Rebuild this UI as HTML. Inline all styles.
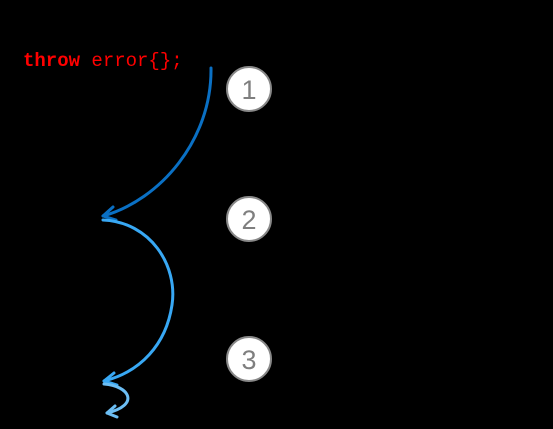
<!DOCTYPE html>
<html><head><style>
html,body{margin:0;padding:0;background:#000;width:553px;height:429px;overflow:hidden}
.t{position:absolute;left:23px;top:50px;font-family:"Liberation Mono",monospace;font-size:19px;line-height:22px;color:#f00;white-space:pre}
</style></head><body>
<div class="t"><b>throw</b> error{};</div>
<svg width="553" height="429" style="position:absolute;left:0;top:0">
<g fill="none" stroke-linecap="round" stroke-linejoin="round">
<path d="M211 68 C212 140 160 200 103 216" stroke="#0a70c4" stroke-width="3"/>
<path d="M113 207 L103 216 L116 220" stroke="#0a70c4" stroke-width="3"/>
<path d="M103 220 C150 222 178 265 172 305 C166 345 140 372 104 381" stroke="#38a8f4" stroke-width="3"/>
<path d="M114 373 L104 381 L117 385" stroke="#38a8f4" stroke-width="3"/>
<path d="M104 384 C130 386 140 405 107 413" stroke="#6cbef4" stroke-width="3"/>
<path d="M115 406 L107 413 L117 417" stroke="#6cbef4" stroke-width="3"/>
</g>
<g font-family="Liberation Sans, sans-serif" font-size="27" fill="#7f7f7f" text-anchor="middle">
<circle cx="249" cy="89" r="22" fill="#fff" stroke="#888" stroke-width="2"/>
<text x="249" y="99">1</text>
<circle cx="249" cy="219" r="22" fill="#fff" stroke="#888" stroke-width="2"/>
<text x="249" y="229">2</text>
<circle cx="249" cy="359" r="22" fill="#fff" stroke="#888" stroke-width="2"/>
<text x="249" y="369">3</text>
</g>
</svg>
</body></html>
